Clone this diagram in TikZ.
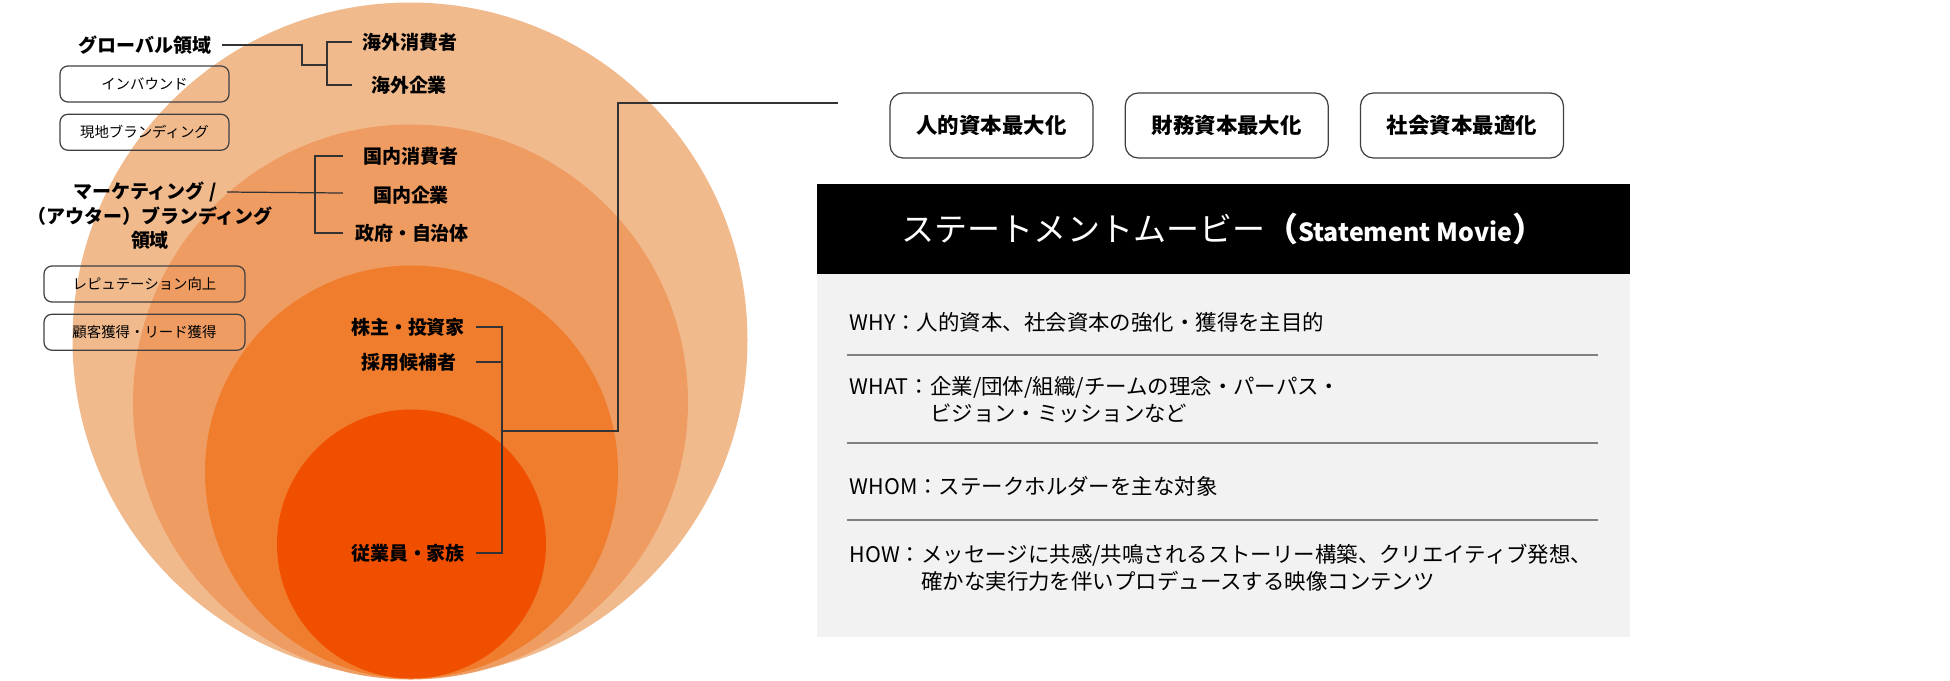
\documentclass[tikz,border=0pt]{standalone}
\usepackage{fontspec}
\setmainfont{Noto Sans CJK JP}
\usepackage{tikz}
\usetikzlibrary{positioning}

\definecolor{ringA}{HTML}{F1BA8D}
\definecolor{ringB}{HTML}{EE9C62}
\definecolor{ringC}{HTML}{F07D2D}
\definecolor{ringD}{HTML}{F04F00}
\definecolor{panelgray}{HTML}{F2F2F2}

\tikzset{
    lbl/.style={font=\fontsize{5.4}{6.6}\selectfont\bfseries, inner sep=0.1cm, align=center},
    tag/.style={draw=black!75, line width=0.35pt, rounded corners=0.08cm, minimum height=0.36cm, inner sep=0, font=\fontsize{4.1}{5}\selectfont},
    capbox/.style={draw=black!75, line width=0.35pt, rounded corners=0.13cm, fill=white, minimum width=2.03cm, minimum height=0.65cm, font=\fontsize{6.1}{7}\selectfont\bfseries},
    wire/.style={draw=black!80, line width=0.35pt},
    divider/.style={draw=black!50, line width=0.45pt},
    body/.style={anchor=west, inner sep=0, font=\fontsize{6.1}{7.7}\selectfont}
}

\begin{document}
\begin{tikzpicture}
                            \useasboundingbox (0, 0) rectangle (19.5, -6.8);
                            \fill[ringA] (4.10, -3.40) circle (3.375);
                            \fill[ringB] (4.105, -4.02) circle (2.775);
                            \fill[ringC] (4.115, -4.72) circle (2.065);
                            \fill[ringD] (4.115, -5.44) circle (1.345);
                            \node[lbl] (glob) at (1.45, -0.45) {グローバル領域};
                            \node[tag, minimum width=1.69cm] (inbound) at (1.445, -0.84) {インバウンド};
                            \node[tag, minimum width=1.69cm, below=0.11cm of inbound] (localbr) {現地ブランディング};
                            \node[lbl] (mkt) at (1.45, -1.92) {マーケティング /};
                            \node[lbl] (mktsub) at (1.50, -2.28) {（アウター）ブランディング\\領域};
                            \node[tag, minimum width=2.01cm] (reput) at (1.445, -2.84) {レピュテーション向上};
                            \node[tag, minimum width=2.01cm, below=0.11cm of reput] (leads) {顧客獲得・リード獲得};
                            \node[lbl] (ovcons) at (4.10, -0.42) {海外消費者};
                            \node[lbl] (ovcorp) at (4.09, -0.85) {海外企業};
                            \node[lbl] (dcons) at (4.11, -1.56) {国内消費者};
                            \node[lbl] (dcorp) at (4.11, -1.95) {国内企業};
                            \node[lbl] (gov) at (4.12, -2.33) {政府・自治体};
                            \node[lbl] (share) at (4.08, -3.27) {株主・投資家};
                            \node[lbl] (recruit) at (4.09, -3.62) {採用候補者};
                            \node[lbl] (staff) at (4.08, -5.53) {従業員・家族};
                            \coordinate (gj) at (3.27, -0.65);
                            \coordinate (dj) at (3.15, -1.93);
                            \coordinate (sj) at (5.02, -4.31);
                            \coordinate (bend) at (6.18, -1.03);
                            \coordinate (tail) at (8.38, -1.03);
                            \draw[wire] (glob.east) -| (3.02, -0.65) -- (gj);
                            \draw[wire] (ovcons.west) -| (gj) |- (ovcons.west |- ovcorp);
                            \draw[wire] (mkt.east) -- ([xshift=-1mm]dcons.west |- dj);
                            \draw[wire] ([xshift=-1mm]dcons.west) -| (dj |- gov) -- ([xshift=-1mm]dcons.west |- gov);
                            \draw[wire] (share.east) -| (sj |- staff) -- (staff.east);
                            \draw[wire] (share.east |- recruit) -- (sj |- recruit);
                            \draw[wire] (sj) -| (bend) -- (tail);
                            \node[capbox] (hcap) at (9.915, -1.255) {人的資本最大化};
                            \node[capbox, right=0.31cm of hcap] (fcap) {財務資本最大化};
                            \node[capbox, right=0.31cm of fcap] (scap) {社会資本最適化};
                            \node[fill=black, text=white, minimum width=8.13cm, minimum height=0.9cm, outer sep=0, font=\fontsize{9.4}{11}\selectfont] (bar) at (12.235, -2.29) {ステートメントムービー{\bfseries （{\fontsize{7.1}{9}\selectfont Statement Movie}）}};
                            \node[fill=panelgray, minimum width=8.13cm, minimum height=3.63cm, outer sep=0, below=0cm of bar] (panel) {};
                            \node[body] (why) at (8.49, -3.22) {WHY：人的資本、社会資本の強化・獲得を主目的};
                            \node[body] (what) at (8.49, -4.03) {\begin{tabular}{@{}l@{}l@{}}WHAT：&企業/団体/組織/チームの理念・パーパス・\\&ビジョン・ミッションなど\end{tabular}};
                            \node[body] (whom) at (8.49, -4.86) {WHOM：ステークホルダーを主な対象};
                            \node[body] (how) at (8.49, -5.71) {\begin{tabular}{@{}l@{}l@{}}HOW：&メッセージに共感/共鳴されるストーリー構築、クリエイティブ発想、\\&確かな実行力を伴いプロデュースする映像コンテンツ\end{tabular}};
                            \draw[divider] (8.47, -3.55) -- (15.98, -3.55);
                            \draw[divider] (8.47, -4.43) -- (15.98, -4.43);
                            \draw[divider] (8.47, -5.20) -- (15.98, -5.20);
                        \end{tikzpicture}
\end{document}
